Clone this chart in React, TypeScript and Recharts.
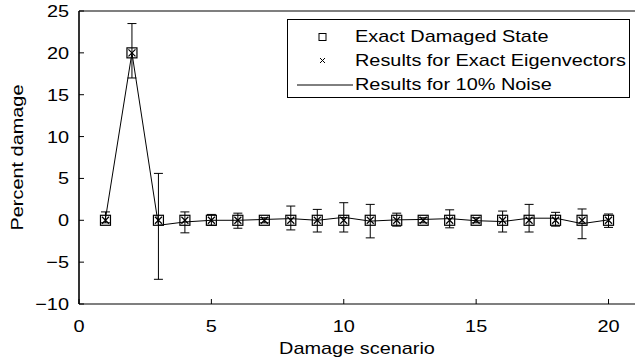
import React from 'react';
import { ComposedChart, Line, XAxis, YAxis, ErrorBar, Label } from 'recharts';

const scenarios = [1, 2, 3, 4, 5, 6, 7, 8, 9, 10, 11, 12, 13, 14, 15, 16, 17, 18, 19, 20];
const exactDamaged = [0, 20, 0, 0, 0, 0, 0, 0, 0, 0, 0, 0, 0, 0, 0, 0, 0, 0, 0, 0];
const exactEigen = [0, 20, 0, 0, 0, 0, 0, 0, 0, 0, 0, 0, 0, 0, 0, 0, 0, 0, 0, 0];
const noiseMean = [0.2, 20, -0.6, -0.2, 0, 0, 0.1, 0.2, 0, 0.35, -0.1, 0.05, 0.1, 0.2, -0.05, -0.15, 0.25, 0.25, -0.4, 0.05];
const noiseUpper = [1.0, 23.5, 5.6, 1.0, 0.7, 0.85, 0.3, 1.7, 1.3, 2.1, 1.9, 0.85, 0.3, 1.25, 0.3, 1.1, 1.9, 0.95, 1.35, 0.75];
const noiseLower = [-0.3, 17.0, -7.05, -1.5, -0.6, -0.95, -0.3, -1.15, -1.4, -1.4, -2.1, -0.7, -0.3, -0.9, -0.3, -1.4, -1.4, -0.7, -2.2, -0.85];

const xTicks = [0, 5, 10, 15, 20];
const yTicks = [-10, -5, 0, 5, 10, 15, 20, 25];
const legendLabels = ['Exact Damaged State', 'Results for Exact Eigenvectors', 'Results for 10% Noise'];

const data = scenarios.map((s, i) => ({
  scenario: s,
  exact: exactDamaged[i],
  eig: exactEigen[i],
  noise: noiseMean[i],
  err: [noiseMean[i] - noiseLower[i], noiseUpper[i] - noiseMean[i]],
}));

const FONT = '"Liberation Sans", Arial, Helvetica, sans-serif';
const SX = 1.17;
const FS = 17;

const fmt = (v: number) => String(v).replace('-', '\u2212');

const XTick = (props: any) => {
  const { x, y, payload } = props;
  return (
    <g transform={`translate(${x},${y})`}>
      <text transform={`scale(${SX},1)`} textAnchor="middle" dy="0.355em" fontSize={FS} fontFamily={FONT} fill="#000">
        {fmt(payload.value)}
      </text>
    </g>
  );
};

const YTick = (props: any) => {
  const { x, y, payload } = props;
  return (
    <g transform={`translate(${x},${y})`}>
      <text transform={`scale(${SX},1)`} textAnchor="end" dy="0.355em" fontSize={FS} fontFamily={FONT} fill="#000">
        {fmt(payload.value)}
      </text>
    </g>
  );
};

const SquareDot = (props: any) => {
  const { cx, cy, index } = props;
  if (cx == null || cy == null) return <g key={`sq-${index}`} />;
  return <rect key={`sq-${index}`} x={cx - 5} y={cy - 5} width={10} height={10} fill="none" stroke="#000" strokeWidth={1.2} />;
};

const CrossDot = (props: any) => {
  const { cx, cy, index } = props;
  if (cx == null || cy == null) return <g key={`cx-${index}`} />;
  const r = 3.5;
  return (
    <path key={`cx-${index}`} d={`M${cx - r},${cy - r}L${cx + r},${cy + r}M${cx - r},${cy + r}L${cx + r},${cy - r}`} stroke="#000" strokeWidth={1.2} fill="none" />
  );
};

const XLabel = (props: any) => {
  const vb = props.viewBox || { x: 79, y: 304, width: 556, height: 57 };
  const cx = vb.x + vb.width / 2;
  const cy = vb.y + 44;
  return (
    <g transform={`translate(${cx},${cy})`}>
      <text transform={`scale(${SX},1)`} textAnchor="middle" dy="0.355em" fontSize={FS} fontFamily={FONT} fill="#000">
        Damage scenario
      </text>
    </g>
  );
};

const YLabel = (props: any) => {
  const vb = props.viewBox || { x: 0, y: 11, width: 79, height: 293 };
  const cx = vb.x + 17;
  const cy = vb.y + vb.height / 2;
  return (
    <g transform={`translate(${cx},${cy}) rotate(-90)`}>
      <text transform={`scale(${SX},1)`} textAnchor="middle" dy="0.355em" fontSize={FS} fontFamily={FONT} fill="#000">
        Percent damage
      </text>
    </g>
  );
};

const LegendBox = () => {
  const rows = [16.5, 40.5, 64.5];
  return (
    <div
      style={{
        position: 'absolute',
        left: 287,
        top: 19,
        width: 343,
        height: 79,
        boxSizing: 'border-box',
        border: '1px solid #000',
        background: '#fff',
      }}
    >
      {legendLabels.map((lab, i) => (
        <div key={lab} style={{ position: 'absolute', left: 0, top: rows[i] - 12, height: 24, width: 341 }}>
          <svg width={66} height={24} style={{ position: 'absolute', left: 0, top: 0 }}>
            {i === 0 && <rect x={31} y={8.5} width={7} height={7} fill="none" stroke="#000" strokeWidth={1} />}
            {i === 1 && <path d="M32,9L37,14M32,14L37,9" stroke="#000" strokeWidth={1} fill="none" />}
            {i === 2 && <line x1={9} y1={12} x2={65} y2={12} stroke="#000" strokeWidth={1} />}
          </svg>
          <span
            style={{
              position: 'absolute',
              left: 67,
              top: 0,
              lineHeight: '24px',
              fontSize: FS,
              fontFamily: FONT,
              whiteSpace: 'nowrap',
              display: 'inline-block',
              transform: `scaleX(${SX})`,
              transformOrigin: 'left center',
              color: '#000',
            }}
          >
            {lab}
          </span>
        </div>
      ))}
    </div>
  );
};

export default function App() {
  return (
    <div style={{ position: 'absolute', left: 0, top: 0, width: 636, height: 361, background: '#fff', overflow: 'hidden' }}>
      <ComposedChart width={636} height={361} data={data} margin={{ top: 10, right: 0, left: 0, bottom: 0 }}>
        <XAxis
          xAxisId="b"
          type="number"
          dataKey="scenario"
          domain={[0, 21]}
          ticks={xTicks}
          allowDataOverflow
          height={57}
          tickSize={-5}
          tickMargin={26.5}
          tick={<XTick />}
          axisLine={{ stroke: '#000', strokeWidth: 1.2 }}
          tickLine={{ stroke: '#000' }}
          label={<XLabel />}
        />
        <XAxis
          xAxisId="t"
          orientation="top"
          type="number"
          dataKey="scenario"
          domain={[0, 21]}
          ticks={xTicks}
          allowDataOverflow
          height={1}
          tickSize={-5}
          tick={false}
          axisLine={{ stroke: '#000', strokeWidth: 1.2 }}
          tickLine={{ stroke: '#000' }}
        />
        <YAxis
          yAxisId="l"
          type="number"
          domain={[-10, 25]}
          ticks={yTicks}
          allowDataOverflow
          width={79}
          tickSize={-5}
          tickMargin={15}
          tick={<YTick />}
          axisLine={{ stroke: '#000', strokeWidth: 1.6 }}
          tickLine={{ stroke: '#000' }}
          label={<YLabel />}
        />
        <YAxis
          yAxisId="r"
          orientation="right"
          type="number"
          domain={[-10, 25]}
          ticks={yTicks}
          allowDataOverflow
          width={1}
          tickSize={-5}
          tick={false}
          axisLine={false}
          tickLine={{ stroke: '#000' }}
        />
        <Line
          xAxisId="b"
          yAxisId="l"
          type="linear"
          dataKey="noise"
          stroke="#000"
          strokeWidth={1}
          dot={false}
          activeDot={false}
          isAnimationActive={false}
        >
          <ErrorBar dataKey="err" direction="y" width={4.5} stroke="#000" strokeWidth={1} />
        </Line>
        <Line
          xAxisId="b"
          yAxisId="l"
          type="linear"
          dataKey="exact"
          stroke="none"
          dot={SquareDot}
          activeDot={false}
          isAnimationActive={false}
        />
        <Line
          xAxisId="b"
          yAxisId="l"
          type="linear"
          dataKey="eig"
          stroke="none"
          dot={CrossDot}
          activeDot={false}
          isAnimationActive={false}
        />
      </ComposedChart>
      <LegendBox />
    </div>
  );
}
